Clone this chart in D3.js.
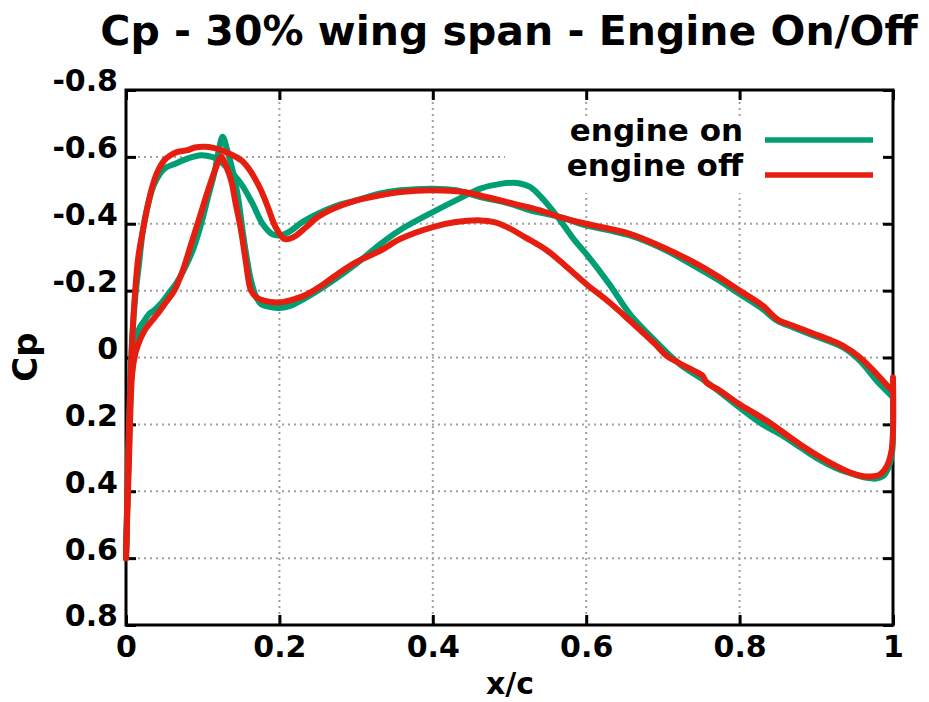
<!DOCTYPE html>
<html>
<head>
<meta charset="utf-8">
<script src="https://cdn.jsdelivr.net/npm/d3@7/dist/d3.min.js"></script>
<style>
  html, body { margin: 0; padding: 0; background: #fff; }
  svg { display: block; font-family: "DejaVu Sans", sans-serif; font-weight: bold; }
</style>
</head>
<body>
<svg id="chart" width="929" height="702"></svg>
<script>
// Tick positions and their labels
const xTicks = [0, 0.2, 0.4, 0.6, 0.8, 1];
const xTickLabels = ["0", "0.2", "0.4", "0.6", "0.8", "1"];
const yTicks = [-0.8, -0.6, -0.4, -0.2, 0, 0.2, 0.4, 0.6, 0.8];
const yTickLabels = ["-0.8", "-0.6", "-0.4", "-0.2", "0", "0.2", "0.4", "0.6", "0.8"];

const seriesNames = ["engine on", "engine off"];
const seriesColors = ["#009e73", "#e51e10"];

// Engine on: suction branch, leading edge -> trailing edge [x/c, Cp]
const onUpper = [
  [0, 0.6], [0.004, 0.2], [0.008, -0.05], [0.012, -0.18], [0.017, -0.28], [0.022, -0.38],
  [0.028, -0.45], [0.037, -0.52], [0.05, -0.565], [0.065, -0.58], [0.08, -0.595],
  [0.098, -0.605], [0.112, -0.6], [0.121, -0.59], [0.135, -0.56], [0.15, -0.52],
  [0.165, -0.46], [0.178, -0.4], [0.19, -0.37], [0.2, -0.365], [0.212, -0.375],
  [0.23, -0.405], [0.25, -0.43], [0.27, -0.45], [0.3, -0.47], [0.33, -0.49],
  [0.358, -0.5], [0.4, -0.505], [0.43, -0.5], [0.462, -0.48], [0.5, -0.46],
  [0.527, -0.44], [0.566, -0.42], [0.6, -0.395], [0.63, -0.38], [0.657, -0.365],
  [0.7, -0.325], [0.74, -0.275], [0.77, -0.235], [0.8, -0.19], [0.83, -0.145],
  [0.849, -0.11], [0.87, -0.09], [0.892, -0.07], [0.915, -0.05], [0.935, -0.03],
  [0.957, 0.01], [0.979, 0.07], [0.996, 0.11], [1.0, 0.12]
];
// Engine on: second branch with the peak near x/c = 0.125
const onLower = [
  [0, 0.6], [0.004, 0.25], [0.008, 0.02], [0.013, -0.06], [0.018, -0.09], [0.024, -0.11],
  [0.03, -0.13], [0.036, -0.14], [0.045, -0.16], [0.055, -0.19], [0.065, -0.22],
  [0.075, -0.26], [0.087, -0.32], [0.098, -0.4], [0.107, -0.48], [0.115, -0.55],
  [0.121, -0.62], [0.126, -0.66], [0.132, -0.62], [0.14, -0.55], [0.146, -0.48],
  [0.152, -0.38], [0.158, -0.29], [0.163, -0.23], [0.17, -0.18], [0.176, -0.16],
  [0.19, -0.15], [0.2, -0.148], [0.215, -0.155], [0.228, -0.17], [0.25, -0.2],
  [0.27, -0.23], [0.3, -0.28], [0.332, -0.34], [0.36, -0.385], [0.4, -0.435],
  [0.43, -0.47], [0.462, -0.505], [0.49, -0.52], [0.51, -0.522], [0.527, -0.51],
  [0.545, -0.47], [0.566, -0.41], [0.585, -0.35], [0.6, -0.31], [0.63, -0.22],
  [0.657, -0.13], [0.69, -0.05], [0.722, 0.02], [0.758, 0.075], [0.8, 0.15],
  [0.83, 0.2], [0.857, 0.235], [0.88, 0.27], [0.9, 0.3], [0.93, 0.335], [0.95, 0.35],
  [0.966, 0.36], [0.978, 0.362], [0.987, 0.355], [0.994, 0.33], [0.999, 0.28],
  [1.0, 0.2], [1.0, 0.12]
];
// Engine off: suction branch
const offUpper = [
  [0, 0.6], [0.004, 0.2], [0.008, -0.05], [0.012, -0.2], [0.016, -0.3], [0.022, -0.38],
  [0.027, -0.44], [0.033, -0.5], [0.04, -0.55], [0.05, -0.59], [0.058, -0.605],
  [0.067, -0.615], [0.08, -0.62], [0.09, -0.628], [0.102, -0.63], [0.114, -0.627],
  [0.124, -0.62], [0.137, -0.607], [0.15, -0.59], [0.16, -0.565], [0.167, -0.54],
  [0.176, -0.5], [0.185, -0.45], [0.195, -0.39], [0.206, -0.355], [0.213, -0.355],
  [0.222, -0.365], [0.235, -0.39], [0.25, -0.42], [0.27, -0.445], [0.293, -0.465],
  [0.32, -0.48], [0.358, -0.495], [0.4, -0.5], [0.44, -0.495], [0.47, -0.48],
  [0.505, -0.46], [0.54, -0.44], [0.566, -0.42], [0.6, -0.4], [0.63, -0.385],
  [0.657, -0.37], [0.7, -0.33], [0.74, -0.285], [0.77, -0.245], [0.8, -0.2],
  [0.83, -0.155], [0.846, -0.12], [0.852, -0.11], [0.87, -0.095], [0.892, -0.075],
  [0.915, -0.055], [0.935, -0.035], [0.957, 0.0], [0.979, 0.05], [0.993, 0.085],
  [1.0, 0.1]
];
// Engine off: second branch
const offLower = [
  [0, 0.6], [0.004, 0.3], [0.008, 0.05], [0.012, -0.01], [0.016, -0.04], [0.024, -0.08],
  [0.032, -0.105], [0.041, -0.13], [0.052, -0.165], [0.063, -0.2], [0.074, -0.26],
  [0.085, -0.34], [0.096, -0.42], [0.107, -0.5], [0.116, -0.56], [0.124, -0.6],
  [0.13, -0.575], [0.137, -0.53], [0.143, -0.46], [0.15, -0.38], [0.156, -0.29],
  [0.163, -0.2], [0.17, -0.18], [0.18, -0.17], [0.2, -0.165], [0.22, -0.175],
  [0.237, -0.19], [0.255, -0.215], [0.27, -0.24], [0.3, -0.285], [0.332, -0.32],
  [0.358, -0.355], [0.4, -0.39], [0.43, -0.405], [0.462, -0.41], [0.48, -0.405],
  [0.497, -0.39], [0.52, -0.36], [0.549, -0.32], [0.575, -0.27], [0.6, -0.22],
  [0.63, -0.165], [0.657, -0.11], [0.69, -0.04], [0.705, -0.005], [0.72, 0.015],
  [0.749, 0.05], [0.752, 0.055], [0.757, 0.075], [0.775, 0.1], [0.8, 0.14],
  [0.836, 0.19], [0.879, 0.26], [0.922, 0.32], [0.945, 0.345], [0.961, 0.355],
  [0.975, 0.355], [0.983, 0.35], [0.992, 0.325], [0.998, 0.28], [1.0, 0.22], [1.0, 0.06]
];

const seriesData = [[onUpper, onLower], [offUpper, offLower]];

const svg = d3.select("#chart");
const plotLeft = 126, plotRight = 893, plotTop = 90, plotBottom = 625;

const x = d3.scaleLinear().domain([0, 1]).range([plotLeft, plotRight]);
const y = d3.scaleLinear().domain([-0.8, 0.8]).range([plotTop, plotBottom]);

// Title
svg.append("text")
  .attr("x", 509).attr("y", 45)
  .attr("text-anchor", "middle")
  .attr("font-size", 41)
  .text("Cp - 30% wing span - Engine On/Off");

// Dotted grid
const grid = svg.append("g")
  .attr("stroke", "#a0a0a0").attr("stroke-width", 2)
  .attr("stroke-dasharray", "2,4");
grid.selectAll("line.gx").data(xTicks.slice(1, -1)).join("line")
  .attr("class", "gx")
  .attr("x1", d => x(d)).attr("x2", d => x(d))
  .attr("y1", plotTop).attr("y2", plotBottom);
grid.selectAll("line.gy").data(yTicks.slice(1, -1)).join("line")
  .attr("class", "gy")
  .attr("x1", plotLeft).attr("x2", plotRight)
  .attr("y1", d => y(d)).attr("y2", d => y(d));

// Opaque key background
svg.append("rect")
  .attr("x", 505).attr("y", 117)
  .attr("width", plotRight - 505).attr("height", 76)
  .attr("fill", "#fff");

// Axes with inward ticks on all four sides
function styleAxis(g) {
  g.select(".domain").remove();
  g.selectAll(".tick line").attr("stroke", "#000").attr("stroke-width", 3);
  g.selectAll(".tick text").attr("fill", "#000")
    .attr("font-size", 30).attr("font-weight", "bold")
    .attr("font-family", "DejaVu Sans, sans-serif");
}
svg.append("g").attr("transform", `translate(0,${plotBottom})`)
  .call(d3.axisBottom(x).tickValues(xTicks)
    .tickFormat((d, i) => xTickLabels[i])
    .tickSizeInner(-10).tickSizeOuter(0).tickPadding(11))
  .call(styleAxis);
svg.append("g").attr("transform", `translate(${plotLeft},0)`)
  .call(d3.axisLeft(y).tickValues(yTicks)
    .tickFormat((d, i) => yTickLabels[i])
    .tickSizeInner(-10).tickSizeOuter(0).tickPadding(8))
  .call(styleAxis)
  .call(g => g.selectAll(".tick text").attr("dy", "0.03em"));
svg.append("g").attr("transform", `translate(0,${plotTop})`)
  .call(d3.axisTop(x).tickValues(xTicks).tickFormat("")
    .tickSizeInner(-10).tickSizeOuter(0))
  .call(styleAxis);
svg.append("g").attr("transform", `translate(${plotRight},0)`)
  .call(d3.axisRight(y).tickValues(yTicks).tickFormat("")
    .tickSizeInner(-10).tickSizeOuter(0))
  .call(styleAxis);

// Plot border
svg.append("rect")
  .attr("x", plotLeft).attr("y", plotTop)
  .attr("width", plotRight - plotLeft).attr("height", plotBottom - plotTop)
  .attr("fill", "none").attr("stroke", "#000").attr("stroke-width", 3);

// Axis titles
svg.append("text")
  .attr("transform", "translate(37,357) rotate(-90)")
  .attr("text-anchor", "middle")
  .attr("font-size", 34)
  .text("Cp");
svg.append("text")
  .attr("x", 510).attr("y", 694)
  .attr("text-anchor", "middle")
  .attr("font-size", 30)
  .text("x/c");

// Pressure curves
const line = d3.line()
  .x(d => x(d[0])).y(d => y(d[1]))
  .curve(d3.curveCatmullRom.alpha(0.5));

seriesData.forEach((branches, i) => {
  branches.forEach(b => {
    svg.append("path")
      .datum(b)
      .attr("d", line)
      .attr("fill", "none")
      .attr("stroke", seriesColors[i])
      .attr("stroke-width", 6)
      .attr("stroke-linejoin", "round")
      .attr("stroke-linecap", "round");
  });
});

// Key
const keyRows = [140, 175];
seriesNames.forEach((name, i) => {
  svg.append("text")
    .attr("x", 743).attr("y", keyRows[i] + 1)
    .attr("text-anchor", "end")
    .attr("font-size", 31)
    .text(name);
  svg.append("line")
    .attr("x1", 765).attr("x2", 873)
    .attr("y1", keyRows[i]).attr("y2", keyRows[i])
    .attr("stroke", seriesColors[i]).attr("stroke-width", 5.5);
});
</script>
</body>
</html>
